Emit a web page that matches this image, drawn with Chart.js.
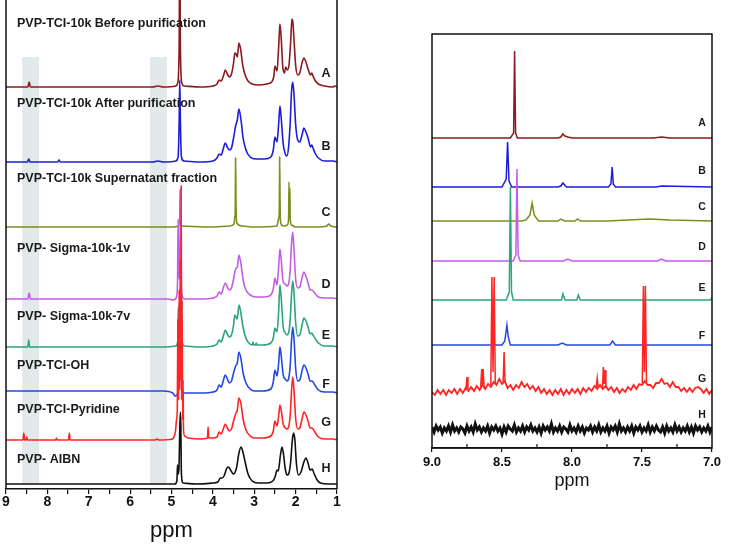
<!DOCTYPE html>
<html><head><meta charset="utf-8">
<script src="https://cdn.jsdelivr.net/npm/chart.js@4.4.1/dist/chart.umd.min.js"></script>
<style>
body{margin:0;background:#fff;width:737px;height:544px;overflow:hidden;position:relative}
canvas{position:absolute;top:0}
#c1{left:0}#c2{left:370px}
</style></head><body>
<canvas id="c1" width="370" height="544"></canvas>
<canvas id="c2" width="367" height="544"></canvas>
<script>
// ---------------- DATA ----------------
const seriesNames = ['PVP-TCI-10k Before purification','PVP-TCI-10k After purification','PVP-TCI-10k Supernatant fraction','PVP- Sigma-10k-1v','PVP- Sigma-10k-7v','PVP-TCI-OH','PVP-TCI-Pyridine','PVP- AIBN'];
const seriesLetters = ['A','B','C','D','E','F','G','H'];
const leftTickLabels = ['9','8','7','6','5','4','3','2','1'];
const rightTickLabels = ['9.0','8.5','8.0','7.5','7.0'];
const shadedBands = [[8.61,8.20],[5.52,5.11]];

// full spectra, 1-9 ppm: [ppm, intensity]
const fullA = [[1.0,0],[1.05,1],[1.1,0],[1.3,1],[1.45,3],[1.52,6],[1.58,11],[1.61,14],[1.64,12],[1.7,18],[1.76,26],[1.8,29],[1.84,25],[1.9,14],[1.95,12],[2.0,22],[2.04,48],[2.07,66],[2.09,68],[2.12,45],[2.16,22],[2.2,17],[2.24,20],[2.27,14],[2.31,20],[2.35,50],[2.38,63],[2.41,40],[2.45,16],[2.48,19],[2.5,21],[2.53,10],[2.58,5],[2.7,3],[2.9,2],[3.05,3],[3.15,6],[3.22,12],[3.28,22],[3.33,38],[3.37,44],[3.41,30],[3.44,33],[3.47,34],[3.5,24],[3.55,13],[3.6,10],[3.65,13],[3.7,17],[3.74,12],[3.8,6],[3.85,7],[3.9,3],[4.0,1],[4.3,0],[4.7,1],[4.75,4],[4.785,40],[4.8,150],[4.815,40],[4.85,4],[4.9,1],[5.2,0],[5.33,1],[5.45,0],[8.41,0],[8.44,5],[8.47,0],[9.0,0]];
const fullB = [[1.0,0],[1.1,1],[1.3,1],[1.45,4],[1.52,8],[1.58,14],[1.61,17],[1.64,15],[1.7,24],[1.76,31],[1.8,34],[1.84,28],[1.9,20],[1.95,22],[2.0,38],[2.04,68],[2.07,80],[2.1,70],[2.13,40],[2.17,15],[2.21,6],[2.25,8],[2.3,18],[2.35,45],[2.38,56],[2.41,38],[2.45,20],[2.5,25],[2.54,12],[2.6,5],[2.75,3],[2.95,3],[3.1,5],[3.2,12],[3.27,24],[3.32,42],[3.37,53],[3.41,42],[3.45,36],[3.5,24],[3.55,14],[3.6,12],[3.65,15],[3.7,19],[3.75,13],[3.8,7],[3.85,8],[3.9,4],[4.0,1],[4.3,0],[4.7,1],[4.76,5],[4.785,40],[4.8,82],[4.815,40],[4.84,5],[4.9,1],[5.2,0],[5.33,1],[5.45,0],[7.69,0],[7.72,2],[7.75,0],[8.42,0],[8.45,3],[8.48,0],[9.0,0]];
const fullC = [[1.0,0],[1.15,1],[1.2,3],[1.25,1],[1.5,0],[2.0,0],[2.1,2],[2.13,8],[2.14,39],[2.15,10],[2.16,45],[2.17,8],[2.2,2],[2.3,1],[2.36,4],[2.375,20],[2.385,70],[2.395,15],[2.42,7],[2.45,1],[3.0,0],[3.3,1],[3.42,4],[3.44,20],[3.45,69],[3.46,14],[3.47,10],[3.49,3],[3.6,1],[4.0,0],[4.75,1],[4.785,10],[4.79,37],[4.8,10],[4.83,1],[5.0,0],[9.0,0]];
const fullD = [[1.0,0],[1.1,1],[1.3,1],[1.45,2],[1.52,5],[1.58,8],[1.61,9],[1.65,9],[1.7,16],[1.76,24],[1.8,27],[1.84,22],[1.9,12],[1.95,11],[2.0,20],[2.04,50],[2.07,67],[2.1,55],[2.13,30],[2.17,15],[2.21,13],[2.25,15],[2.3,17],[2.35,40],[2.38,50],[2.41,32],[2.45,14],[2.5,21],[2.54,10],[2.6,4],[2.75,2],[2.95,2],[3.1,4],[3.2,9],[3.27,19],[3.32,35],[3.37,44],[3.41,32],[3.45,30],[3.5,20],[3.55,11],[3.6,9],[3.65,12],[3.7,16],[3.75,11],[3.8,5],[3.85,7],[3.9,3],[4.0,1],[4.3,0],[4.7,0],[4.74,3],[4.765,20],[4.78,110],[4.795,30],[4.82,20],[4.84,80],[4.855,15],[4.88,2],[4.95,-1],[5.1,0],[8.41,0],[8.44,6],[8.47,0],[9.0,0]];
const fullE = [[1.0,0],[1.1,1],[1.3,1],[1.45,4],[1.52,8],[1.58,12],[1.61,14],[1.65,13],[1.7,20],[1.76,27],[1.8,29],[1.84,23],[1.9,12],[1.95,11],[2.0,25],[2.04,55],[2.07,66],[2.1,52],[2.13,28],[2.17,14],[2.21,12],[2.25,14],[2.3,20],[2.35,50],[2.38,62],[2.41,36],[2.45,15],[2.5,19],[2.54,9],[2.6,4],[2.8,2],[2.93,2],[2.95,4],[2.97,2],[3.01,2],[3.03,5],[3.05,2],[3.15,5],[3.22,11],[3.28,22],[3.33,36],[3.37,42],[3.41,28],[3.44,30],[3.47,32],[3.5,22],[3.55,12],[3.6,10],[3.65,13],[3.7,17],[3.74,12],[3.8,5],[3.85,7],[3.9,3],[4.0,1],[4.3,0],[4.7,1],[4.74,5],[4.75,45],[4.76,10],[4.77,60],[4.78,15],[4.79,50],[4.8,12],[4.81,45],[4.82,10],[4.835,40],[4.85,5],[4.9,1],[5.2,0],[8.43,0],[8.45,7],[8.47,0],[9.0,0]];
const fullF = [[1.0,0],[1.1,1],[1.3,1],[1.45,3],[1.52,7],[1.58,11],[1.61,12],[1.65,12],[1.7,19],[1.76,26],[1.8,28],[1.84,23],[1.9,13],[1.95,12],[2.0,25],[2.04,55],[2.07,66],[2.1,52],[2.13,28],[2.17,14],[2.21,12],[2.25,14],[2.3,18],[2.35,38],[2.38,46],[2.41,30],[2.45,17],[2.5,23],[2.54,11],[2.6,4],[2.8,2],[3.0,2],[3.1,4],[3.2,10],[3.27,20],[3.32,34],[3.37,41],[3.41,30],[3.45,27],[3.5,20],[3.55,12],[3.6,10],[3.65,14],[3.7,18],[3.75,12],[3.8,6],[3.85,8],[3.9,3],[4.0,1],[4.3,0],[4.7,0],[4.75,5],[4.775,30],[4.79,60],[4.805,25],[4.83,5],[4.87,-2],[4.92,-3],[4.97,0],[5.2,2],[9.0,2]];
const fullG = [[1.0,0],[1.1,1],[1.3,1],[1.45,3],[1.52,7],[1.58,11],[1.61,12],[1.65,12],[1.7,19],[1.76,26],[1.8,28],[1.84,22],[1.9,12],[1.95,11],[2.0,22],[2.04,50],[2.07,63],[2.1,48],[2.13,25],[2.17,13],[2.21,11],[2.25,12],[2.3,16],[2.35,30],[2.38,35],[2.41,24],[2.45,14],[2.5,19],[2.54,9],[2.6,4],[2.8,2],[3.0,2],[3.1,4],[3.2,10],[3.27,21],[3.32,36],[3.37,42],[3.41,30],[3.45,26],[3.5,19],[3.55,11],[3.6,9],[3.65,12],[3.7,16],[3.75,11],[3.8,6],[3.85,8],[3.9,3],[4.0,2],[4.1,2],[4.115,13],[4.13,2],[4.3,1],[4.6,2],[4.68,4],[4.71,10],[4.72,60],[4.73,20],[4.745,140],[4.755,40],[4.765,255],[4.775,60],[4.79,180],[4.8,50],[4.815,150],[4.83,40],[4.845,120],[4.86,30],[4.88,20],[4.9,10],[4.93,4],[4.98,1],[5.3,0],[5.35,1],[5.4,0],[7.45,0],[7.47,7],[7.49,0],[7.76,0],[7.78,2],[7.8,0],[8.48,0],[8.5,3],[8.52,0],[8.55,0],[8.57,7],[8.59,0],[9.0,0]];
const fullH = [[1.0,0],[1.2,0],[1.4,1],[1.48,4],[1.55,10],[1.6,15],[1.65,14],[1.7,21],[1.75,26],[1.8,22],[1.87,12],[1.93,9],[1.98,20],[2.02,45],[2.05,51],[2.08,44],[2.12,22],[2.17,10],[2.21,9],[2.25,15],[2.3,32],[2.33,37],[2.37,28],[2.42,13],[2.45,14],[2.49,8],[2.55,3],[2.7,1],[2.9,1],[3.05,3],[3.15,10],[3.22,22],[3.28,33],[3.32,37],[3.37,31],[3.43,16],[3.5,10],[3.56,13],[3.6,16],[3.64,17],[3.68,14],[3.73,8],[3.78,6],[3.82,6],[3.88,2],[4.0,1],[4.4,0],[4.72,1],[4.76,10],[4.775,60],[4.785,72],[4.8,55],[4.82,15],[4.84,10],[4.855,19],[4.87,3],[4.92,0],[9.0,0]];

// aromatic region 7-9 ppm: [ppm, intensity]
const aromA = [[7.0,0],[7.3,0],[7.36,1],[7.42,0],[8.0,0],[8.03,1],[8.05,2],[8.065,4],[8.08,1],[8.1,0],[8.39,0],[8.403,5],[8.41,87],[8.417,5],[8.44,0],[9.0,0]];
const aromB = [[7.0,0],[7.36,1],[7.4,0],[7.69,0],[7.705,3],[7.713,20],[7.722,3],[7.74,0],[8.04,0],[8.065,4],[8.08,1],[8.1,0],[8.43,0],[8.45,6],[8.46,45],[8.47,8],[8.5,0],[9.0,0]];
const aromC = [[7.0,0],[7.3,1],[7.45,2],[7.6,1],[7.75,0],[7.94,0],[7.96,2],[7.98,0],[8.05,0],[8.08,2],[8.1,0],[8.24,0],[8.27,6],[8.285,18],[8.3,6],[8.33,1],[8.36,0],[9.0,0]];
const aromD = [[7.0,0],[7.33,0],[7.36,2],[7.39,0],[8.0,0],[8.03,2],[8.06,0],[8.37,0],[8.385,6],[8.393,92],[8.401,6],[8.42,0],[9.0,0]];
const aromE = [[7.0,3],[7.01,0],[7.5,0],[7.94,0],[7.955,5],[7.965,0],[8.05,0],[8.065,6],[8.075,0],[8.42,0],[8.432,8],[8.44,113],[8.448,8],[8.47,0],[9.0,0]];
const aromF = [[7.0,0],[7.69,0],[7.71,4],[7.73,0],[8.04,0],[8.07,2],[8.1,0],[8.44,0],[8.455,8],[8.465,20],[8.48,4],[8.5,0],[9.0,0]];
// G: noisy baseline sampled every 0.02 ppm from 9.00 down to 7.00, plus sharp peaks
const aromGBase = [0,-3,2,-2,2,-3,2,-1,3,-2,3,-1,4,1,5,1,6,2,7,3,8,5,10,7,13,8,11,4,7,2,7,4,10,5,8,3,6,1,5,-1,3,-2,2,-3,2,-2,3,-3,2,-2,3,-1,3,-2,4,0,4,1,6,3,7,3,6,2,5,0,4,-1,3,0,5,2,7,3,8,7,11,7,7,4,9,9,13,8,9,5,10,5,5,1,4,0,4,0,4,5,3,-1,3,-2,2];
const aromGPeaks = [
  [[8.757,3],[8.75,15],[8.743,3]],
  [[8.652,5],[8.645,23],[8.64,8],[8.635,23],[8.628,5]],
  [[8.58,7],[8.572,115],[8.564,20],[8.556,115],[8.548,9]],
  [[8.492,10],[8.485,40],[8.478,9]],
  [[7.827,4],[7.82,14],[7.813,5]],
  [[7.782,4],[7.776,25],[7.77,8],[7.764,22],[7.758,4]],
  [[7.498,8],[7.49,106],[7.483,20],[7.476,106],[7.468,8]]
];
// H: pure noise sampled evenly from 9.00 down to 7.00
const aromHNoise = [2,-3,3,-1,2,-4,1,-2,3,-3,4,-2,1,-3,2,0,-4,3,-2,2,-3,5,-1,2,-3,1,-2,3,-4,2,-1,3,-2,1,-5,2,-3,3,0,-2,4,-3,1,-2,3,-3,2,-1,4,-2,1,-3,2,-4,3,-1,2,-2,5,-3,1,-2,3,-3,2,0,-3,4,-2,1,-3,3,-2,2,-4,1,-1,3,-3,2,-2,4,-3,1,-2,3,-4,2,-1,3,-3,5,-2,1,-3,2,-2,3,-4,2,-1,3,-3,1,-2,4,-3,2,-2,3,-1,-3,2,-4,3,-2,1,-3,4,-2,2,-3,1,-2,3,-3,2,-4,3,-1,2,-3,1,-2,3,-3,2];

// ---------------- LAYOUT / STYLE ----------------
const colors = ['#8a1a1c','#1d1dd8','#7f8c1e','#c45ce8','#2aa678','#2447e0','#ff2424','#111111'];
const FONT = '"Liberation Sans", Arial, sans-serif';
const leftBase = [402,327,262,190,142,96,49,5];
const rightBase = [310,261,227,187,148,103,56,19];
const leftNameY = [24,104,179,249,317,366,410,460];
const leftLetterY = [74,147,213,285,336,385,423,469];
const rightLetterY = [123,171,207,247,288,336,379,415];

function pts(arr, off){ return arr.map(p => ({x:p[0], y:p[1]+off})); }
function sampled(vals, off){ const n = vals.length; return vals.map((v,i)=>({x: 9 - i*2/(n-1), y: v+off})); }
function peaksWithGaps(groups, off){ const out=[]; groups.forEach(g=>{ g.forEach(p=>out.push({x:p[0], y:p[1]+off})); out.push({x:g[g.length-1][0], y:null}); }); return out; }

const deco = {
  id:'deco',
  beforeDatasetsDraw(chart, args, o){
    const ctx = chart.ctx, xs = chart.scales.x;
    if (o.bands){
      ctx.save(); ctx.fillStyle = '#e3e8eb';
      o.bands.forEach(b=>{ const a = xs.getPixelForValue(b[0]), c = xs.getPixelForValue(b[1]);
        ctx.fillRect(Math.min(a,c), o.bandTop, Math.abs(c-a), o.bandBottom - o.bandTop); });
      ctx.restore();
    }
  },
  afterDraw(chart, args, o){
    const ctx = chart.ctx, ca = chart.chartArea, xs = chart.scales.x;
    ctx.save();
    ctx.strokeStyle = '#111'; ctx.lineWidth = 1.5;
    ctx.beginPath();
    if (o.fullFrame){ ctx.rect(ca.left, ca.top, ca.right-ca.left, ca.bottom-ca.top); }
    else { ctx.moveTo(ca.left, 0); ctx.lineTo(ca.left, ca.bottom); ctx.moveTo(ca.right, 0); ctx.lineTo(ca.right, ca.bottom); }
    ctx.stroke();
    if (o.innerMinor){
      ctx.lineWidth = 1.2; ctx.beginPath();
      xs.ticks.forEach(t=>{ if (Math.abs(t.value*2 - Math.round(t.value*2)) > 1e-6){ const px = xs.getPixelForValue(t.value); ctx.moveTo(px, ca.bottom); ctx.lineTo(px, ca.bottom - 4); } });
      ctx.stroke();
    }
    ctx.fillStyle = '#1a1a1a'; ctx.textBaseline = 'middle';
    if (o.names){
      ctx.font = 'bold 12.5px ' + FONT; ctx.textAlign = 'left';
      o.names.forEach((n,i)=>ctx.fillText(n, o.nameX, o.nameY[i]));
    }
    ctx.font = 'bold ' + o.letterSize + 'px ' + FONT; ctx.textAlign = 'center';
    seriesLetters.forEach((l,i)=>ctx.fillText(l, o.letterX, o.letterY[i]));
    ctx.restore();
  }
};

const fulls = [fullA,fullB,fullC,fullD,fullE,fullF,fullG,fullH];
const leftSets = fulls.map((arr,i)=>({data: pts(arr, leftBase[i]), borderColor: colors[i], borderWidth: 1.6, pointRadius: 0, cubicInterpolationMode: 'monotone', order: 7-i}));

new Chart(document.getElementById('c1'), {
  type: 'line',
  data: { datasets: leftSets },
  options: {
    responsive: false, animation: false, devicePixelRatio: 1,
    layout: { padding: {left: 6, right: 33, top: 0, bottom: 0} },
    plugins: { legend: {display:false}, tooltip: {enabled:false},
      deco: { bands: shadedBands, bandTop: 57, bandBottom: 484, names: seriesNames, nameX: 17, nameY: leftNameY, letterX: 326, letterY: leftLetterY, letterSize: 12.5 } },
    scales: {
      x: { type: 'linear', min: 1, max: 9, reverse: true,
        afterFit: s => { s.height = 55; },
        ticks: { stepSize: 0.5, autoSkip: false, maxRotation: 0, padding: 0, color: '#111',
          font: {family: FONT, weight: 'bold', size: 14},
          callback: v => leftTickLabels.includes(String(v)) ? String(v) : '' },
        grid: { drawOnChartArea: false, drawTicks: true, tickLength: 5, color: '#111', lineWidth: 1.2 },
        border: { display: true, color: '#111', width: 1.5 },
        title: { display: true, text: 'ppm', color: '#111', font: {family: FONT, size: 22}, padding: {top: 0, bottom: 0} } },
      y: { display: false, min: 0, max: 489 }
    }
  },
  plugins: [deco]
});

const aroms = [aromA,aromB,aromC,aromD,aromE,aromF];
const rightSets = aroms.map((arr,i)=>({data: pts(arr, rightBase[i]), borderColor: colors[i], borderWidth: 1.5, pointRadius: 0, order: 10-i}));
rightSets.push({data: sampled(aromGBase, rightBase[6]), borderColor: colors[6], borderWidth: 1.8, pointRadius: 0, order: 3});
rightSets.push({data: peaksWithGaps(aromGPeaks, rightBase[6]), borderColor: colors[6], borderWidth: 1.5, pointRadius: 0, spanGaps: false, order: 2});
rightSets.push({data: sampled(aromHNoise, rightBase[7]), borderColor: colors[7], borderWidth: 3, pointRadius: 0, order: 1});

new Chart(document.getElementById('c2'), {
  type: 'line',
  data: { datasets: rightSets },
  options: {
    responsive: false, animation: false, devicePixelRatio: 1,
    layout: { padding: {left: 62, right: 25, top: 34, bottom: 0} },
    plugins: { legend: {display:false}, tooltip: {enabled:false},
      deco: { fullFrame: true, innerMinor: true, letterX: 332, letterY: rightLetterY, letterSize: 10.5 } },
    scales: {
      x: { type: 'linear', min: 7, max: 9, reverse: true,
        afterFit: s => { s.height = 96; },
        ticks: { stepSize: 0.25, autoSkip: false, maxRotation: 0, padding: 3, color: '#111',
          font: {family: FONT, weight: 'bold', size: 13},
          callback: v => { const s = Number(v).toFixed(1); return (Math.abs(v*2-Math.round(v*2))<1e-6 && rightTickLabels.includes(s)) ? s : ''; } },
        grid: { drawOnChartArea: false, drawTicks: true, tickLength: 4, lineWidth: 1.2,
          tickColor: c => (c.tick && Math.abs(c.tick.value*2 - Math.round(c.tick.value*2)) < 1e-6) ? '#111' : 'rgba(0,0,0,0)' },
        border: { display: true, color: '#111', width: 1.5 },
        title: { display: true, text: 'ppm', color: '#111', font: {family: FONT, size: 18}, padding: {top: 0, bottom: 52} } },
      y: { display: false, min: 0, max: 414 }
    }
  },
  plugins: [deco]
});
</script>
</body></html>
